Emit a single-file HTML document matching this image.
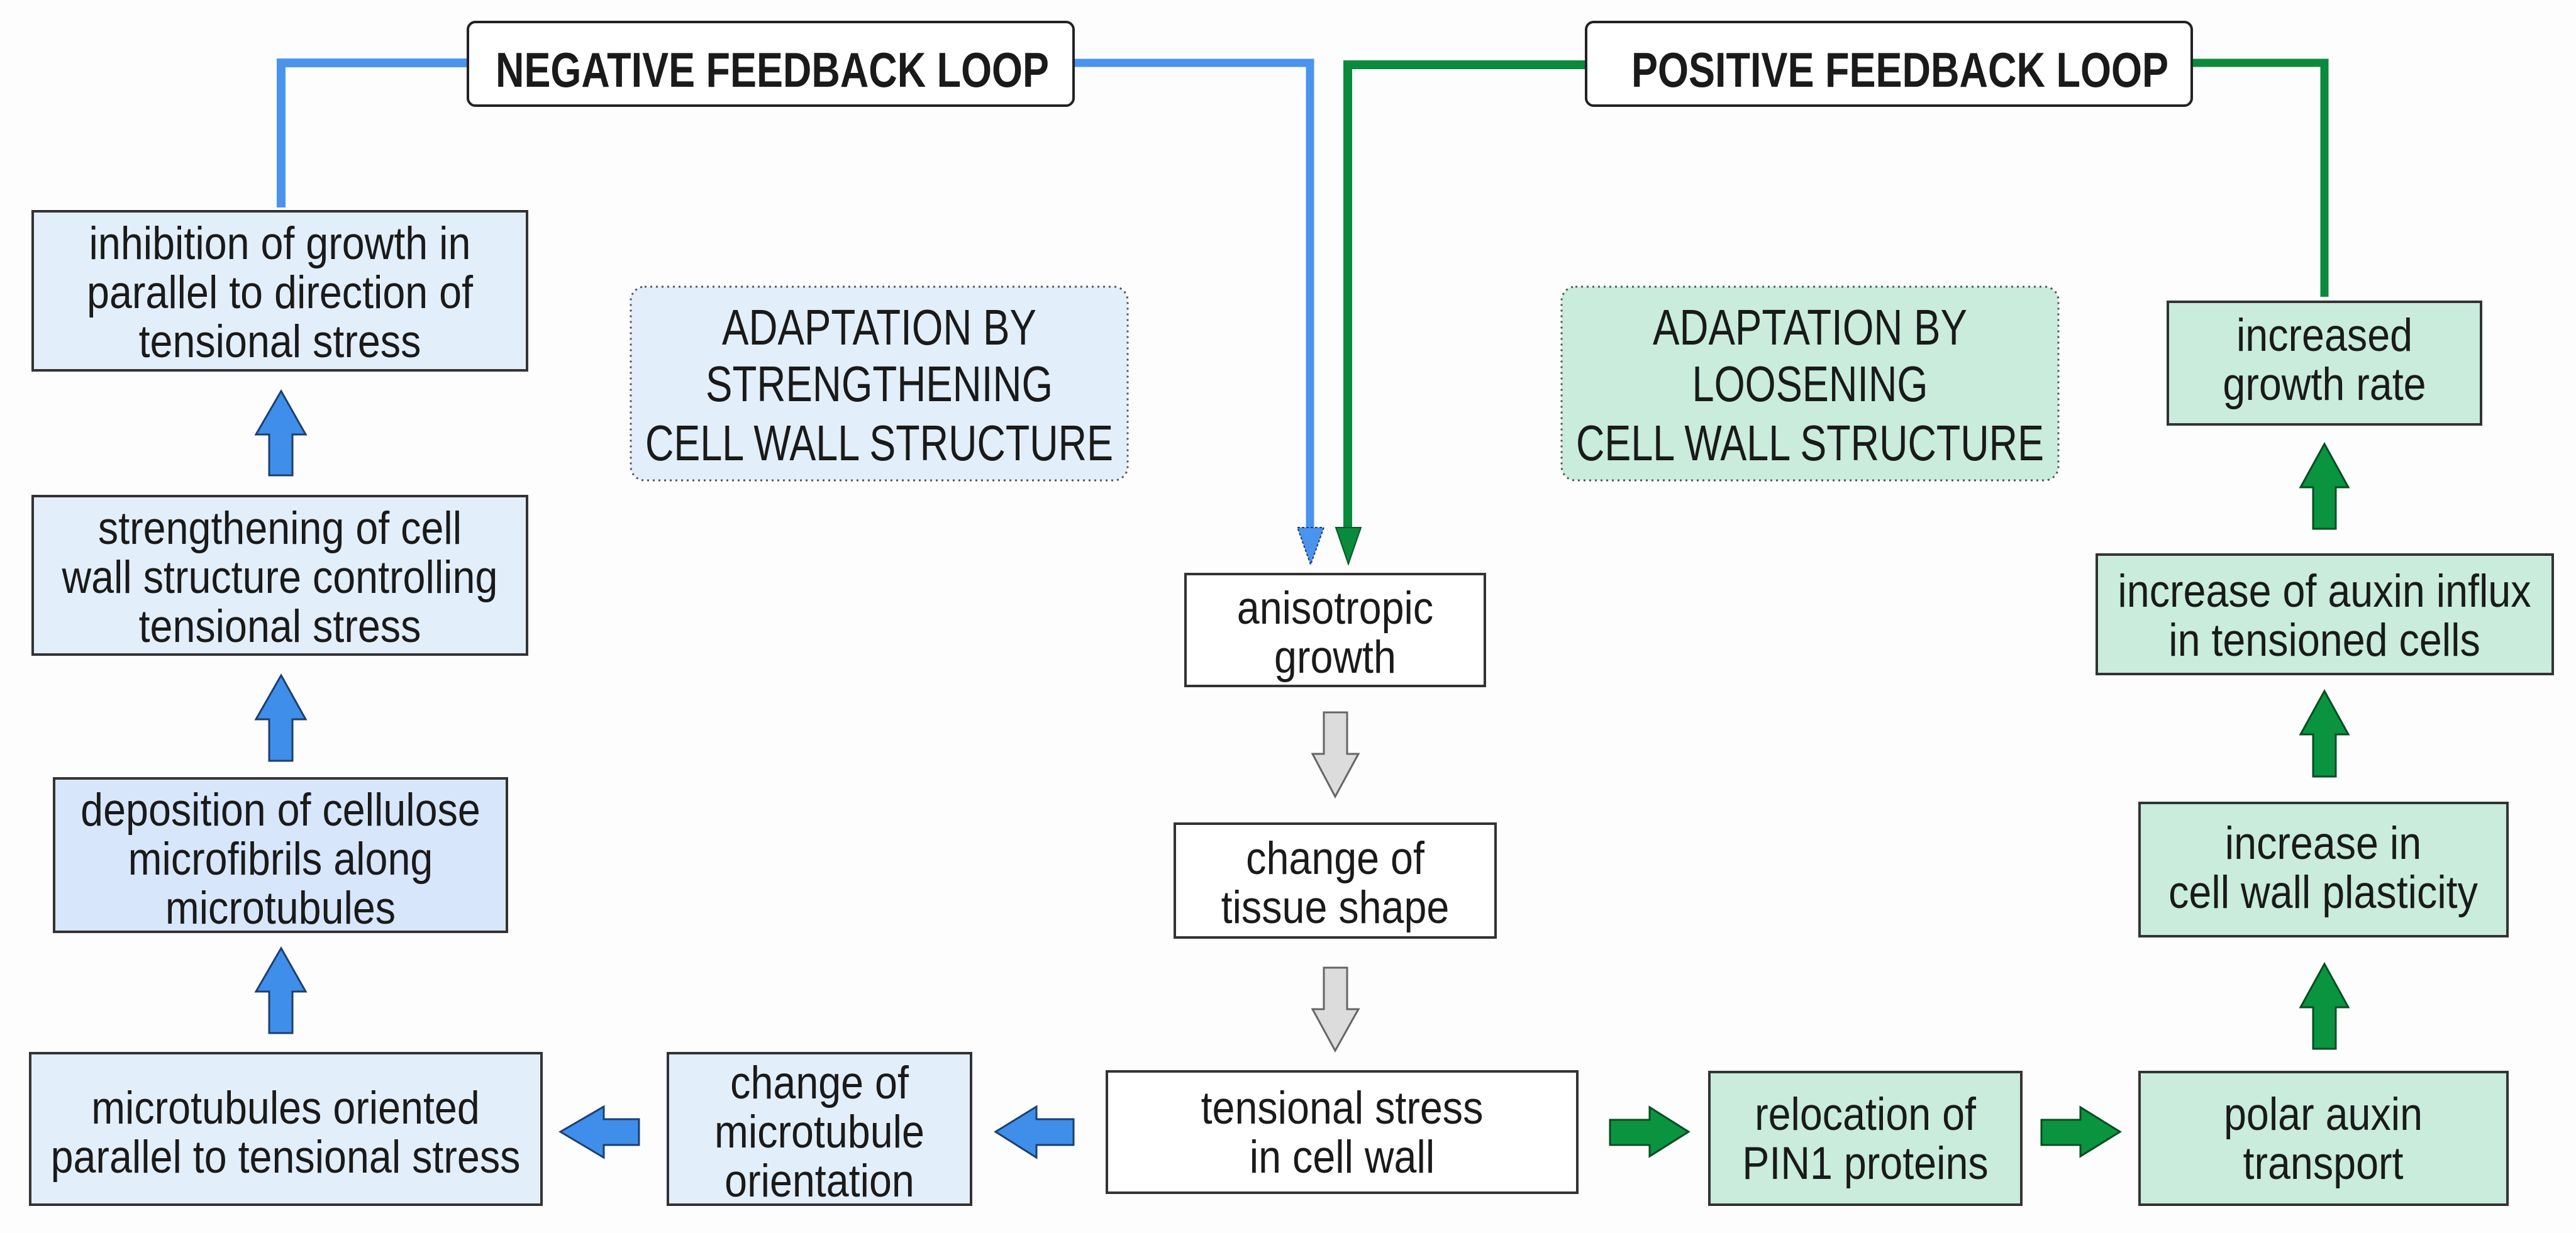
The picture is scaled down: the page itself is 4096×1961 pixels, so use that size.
<!DOCTYPE html>
<html><head><meta charset="utf-8"><style>
html,body{margin:0;padding:0;background:#fff;}
svg{display:block;}
text{font-family:"Liberation Sans",Arial,sans-serif;fill:#1a1a1a;}
.b text{font-size:73px;transform-box:fill-box;transform-origin:center;transform:scaleX(0.885);}
</style></head><body>
<svg width="4096" height="1961" viewBox="0 0 4096 1961" xmlns="http://www.w3.org/2000/svg">
<rect width="4096" height="1961" fill="#fdfdfd"/>
<!-- Blue loop line -->
<polyline points="447,330 447,100 744,100" fill="none" stroke="#4a94ee" stroke-width="14"/>
<polyline points="1707,100 2083,100 2083,845" fill="none" stroke="#4a94ee" stroke-width="13"/>
<polygon points="2063,839 2105,839 2084,898" fill="#4a94ee" stroke="#1c3f70" stroke-width="2" stroke-dasharray="4,3"/>
<!-- Green loop line -->
<polyline points="2522,103 2143,103 2143,845" fill="none" stroke="#0a8a3c" stroke-width="14"/>
<polyline points="3485,100 3696,100 3696,472" fill="none" stroke="#0a8a3c" stroke-width="13"/>
<polygon points="2124,839 2164,839 2144,897" fill="#0a8a3c" stroke="#065a27" stroke-width="2"/>

<!-- Header boxes -->
<rect x="744" y="35" width="963" height="133" rx="12" fill="#fff" stroke="#222" stroke-width="4"/>
<text x="788" y="138" font-size="78" font-weight="bold" textLength="880" lengthAdjust="spacingAndGlyphs">NEGATIVE FEEDBACK LOOP</text>
<rect x="2522" y="35" width="963" height="133" rx="12" fill="#fff" stroke="#222" stroke-width="4"/>
<text x="2594" y="138" font-size="78" font-weight="bold" textLength="854" lengthAdjust="spacingAndGlyphs">POSITIVE FEEDBACK LOOP</text>

<!-- Adaptation boxes -->
<rect x="1003" y="456" width="790" height="308" rx="22" fill="#e3eefb" stroke="#555" stroke-width="3" stroke-dasharray="3,6"/>
<g font-size="80" text-anchor="middle">
<text x="1398" y="548" textLength="500" lengthAdjust="spacingAndGlyphs">ADAPTATION BY</text>
<text x="1398" y="638" textLength="552" lengthAdjust="spacingAndGlyphs">STRENGTHENING</text>
<text x="1398" y="732" textLength="744" lengthAdjust="spacingAndGlyphs">CELL WALL STRUCTURE</text>
</g>
<rect x="2483" y="456" width="790" height="308" rx="22" fill="#c9ecdc" stroke="#555" stroke-width="3" stroke-dasharray="3,6"/>
<g font-size="80" text-anchor="middle">
<text x="2878" y="548" textLength="500" lengthAdjust="spacingAndGlyphs">ADAPTATION BY</text>
<text x="2878" y="638" textLength="375" lengthAdjust="spacingAndGlyphs">LOOSENING</text>
<text x="2878" y="732" textLength="744" lengthAdjust="spacingAndGlyphs">CELL WALL STRUCTURE</text>
</g>

<g stroke="#333" stroke-width="4">
<rect x="52" y="336" width="786" height="253" fill="#e3eefb"/>
<rect x="52" y="789" width="786" height="252" fill="#e3eefb"/>
<rect x="86" y="1238" width="720" height="244" fill="#d7e6fa"/>
<rect x="48" y="1675" width="813" height="241" fill="#e3eefb"/>
<rect x="1062" y="1675" width="482" height="241" fill="#e3eefb"/>
<rect x="1885" y="913" width="476" height="178" fill="#fff"/>
<rect x="1868" y="1310" width="510" height="181" fill="#fff"/>
<rect x="1760" y="1704" width="748" height="193" fill="#fff"/>
<rect x="2718" y="1705" width="496" height="211" fill="#c9ecdc"/>
<rect x="3402" y="1705" width="585" height="211" fill="#c9ecdc"/>
<rect x="3402" y="1277" width="585" height="212" fill="#c9ecdc"/>
<rect x="3334" y="882" width="725" height="190" fill="#c9ecdc"/>
<rect x="3447" y="480" width="498" height="195" fill="#c9ecdc"/>
</g>

<g class="b" text-anchor="middle">
<text x="445" y="412">inhibition of growth in</text>
<text x="445" y="490">parallel to direction of</text>
<text x="445" y="568">tensional stress</text>

<text x="445" y="865">strengthening of cell</text>
<text x="445" y="943">wall structure controlling</text>
<text x="445" y="1021">tensional stress</text>

<text x="446" y="1313">deposition of cellulose</text>
<text x="446" y="1391">microfibrils along</text>
<text x="446" y="1469">microtubules</text>

<text x="454" y="1787">microtubules oriented</text>
<text x="454" y="1865">parallel to tensional stress</text>

<text x="1303" y="1747">change of</text>
<text x="1303" y="1825">microtubule</text>
<text x="1303" y="1903">orientation</text>

<text x="2123" y="992">anisotropic</text>
<text x="2123" y="1070">growth</text>

<text x="2123" y="1390">change of</text>
<text x="2123" y="1468">tissue shape</text>

<text x="2134" y="1787">tensional stress</text>
<text x="2134" y="1865">in cell wall</text>

<text x="2966" y="1797">relocation of</text>
<text x="2966" y="1875">PIN1 proteins</text>

<text x="3694" y="1797">polar auxin</text>
<text x="3694" y="1875">transport</text>

<text x="3694" y="1366">increase in</text>
<text x="3694" y="1444">cell wall plasticity</text>

<text x="3696" y="965">increase of auxin influx</text>
<text x="3696" y="1043">in tensioned cells</text>

<text x="3696" y="558">increased</text>
<text x="3696" y="636">growth rate</text>
</g>

<g fill="#3f8ee9" stroke="#1c3f70" stroke-width="3">
<polygon points="447,622 486,691 465,691 465,756 428,756 428,691 407,691"/>
<polygon points="447,1074 486,1144 465,1144 465,1210 428,1210 428,1144 407,1144"/>
<polygon points="447,1508 486,1577 465,1577 465,1643 428,1643 428,1577 407,1577"/>
<polygon points="891,1800 960,1760 960,1780 1016,1780 1016,1821 960,1821 960,1841"/>
<polygon points="1583,1800 1648,1760 1648,1780 1707,1780 1707,1821 1648,1821 1648,1841"/>
</g>
<g fill="#dcdcdc" stroke="#666" stroke-width="3">
<polygon points="2105,1133 2142,1133 2142,1199 2160,1199 2123,1267 2087,1199 2105,1199"/>
<polygon points="2105,1539 2142,1539 2142,1605 2160,1605 2123,1671 2087,1605 2105,1605"/>
</g>
<g fill="#0a9440" stroke="#064d22" stroke-width="3">
<polygon points="2685,1800 2623,1761 2623,1781 2560,1781 2560,1821 2623,1821 2623,1839"/>
<polygon points="3371,1800 3308,1761 3308,1781 3246,1781 3246,1821 3308,1821 3308,1839"/>
<polygon points="3696,1533 3734,1602 3714,1602 3714,1668 3678,1668 3678,1602 3658,1602"/>
<polygon points="3696,1099 3734,1168 3714,1168 3714,1235 3678,1235 3678,1168 3658,1168"/>
<polygon points="3696,706 3734,775 3714,775 3714,841 3678,841 3678,775 3658,775"/>
</g>
</svg>
</body></html>
